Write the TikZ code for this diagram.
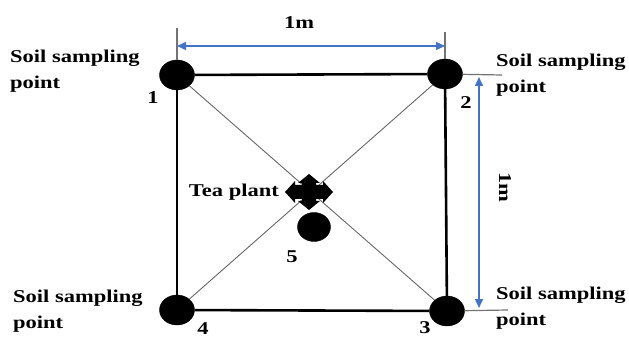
\documentclass[tikz,border=0pt]{standalone}
\usepackage{fontspec}
\setmainfont{Liberation Serif}[FakeStretch=1.25]
\usepackage{tikz}
\usetikzlibrary{arrows.meta, shapes.geometric}
\definecolor{dimblue}{RGB}{68,114,196}

\begin{document}
\begin{tikzpicture}[x=1pt, y=-1pt,
    every node/.style={font=\fontsize{18}{26}\selectfont\bfseries},
    spot/.style={ellipse, fill=black, draw=black, minimum width=35pt, minimum height=30pt, inner sep=0pt},
    side/.style={line width=2.6pt},
    diag/.style={line width=0.9pt, black!60},
    tick/.style={line width=1.2pt, black!55},
    dim/.style={line width=1.4pt, dimblue, {Triangle[length=9pt,width=8pt]}-{Triangle[length=9pt,width=8pt]}},
    txt/.style={align=left, inner sep=0pt}
]

\useasboundingbox (0,0) rectangle (629,339);

% Sampling points
\node[spot] (p1) at (177,75) {};
\node[spot] (p2) at (445,74) {};
\node[spot] (p3) at (447,311) {};
\node[spot] (p4) at (177,310) {};
\node[spot, minimum width=33pt, minimum height=29pt] (p5) at (314,227) {};

% Diagonals through the tea plant
\draw[diag] (p1) -- (p3);
\draw[diag] (p2) -- (p4);

% Square
\draw[side] (p1) -- (p2);
\draw[side] (p2) -- (p3);
\draw[side] (p3) -- (p4);
\draw[side] (p4) -- (p1);

% Tea plant mark
\coordinate (tea) at (309,192);
\fill[shift={(tea)}] (-24,0) -- (-14,-11) -- (-14,-7) -- (-7,-7) -- (-7,-9) -- (-11,-9)
    -- (0,-18) -- (11,-9) -- (7,-9) -- (7,-7) -- (14,-7) -- (14,-11) -- (24,0)
    -- (14,11) -- (14,7) -- (7,7) -- (7,9) -- (11,9) -- (0,18) -- (-11,9)
    -- (-7,9) -- (-7,7) -- (-14,7) -- (-14,11) -- cycle;
\node[anchor=east, inner sep=2pt] (tealbl) at (281,192) {Tea plant};

% Point numbers
\node (n1) at (153,98) {1};
\node (n2) at (466,103) {2};
\node (n3) at (425,328) {3};
\node (n4) at (203,329) {4};
\node (n5) at (292,257) {5};

% Labels
\node[txt, anchor=west] (s1) at (10,71) {Soil sampling\\point};
\node[txt, anchor=west] (s2) at (496,75) {Soil sampling\\point};
\node[txt, anchor=west] (s3) at (13,311) {Soil sampling\\point};
\node[txt, anchor=west] (s4) at (496,308) {Soil sampling\\point};

% Extension lines
\coordinate (t1) at (177,28);
\coordinate (t2) at (445,32);
\coordinate (e2) at (502,75);
\coordinate (e3) at (508,310);
\draw[tick] (t1) -- (p1);
\draw[tick] (t2) -- (p2);
\draw[tick] (p2) -- (e2);
\draw[tick] (p3) -- (e3);

% Dimensions
\coordinate (a1) at (177,46);
\coordinate (a2) at (445,46);
\coordinate (b1) at (479,77);
\coordinate (b2) at (479,308);
\draw[dim] (a1) -- (a2);
\draw[dim] (b1) -- (b2);
\node (w) at (299,23) {1m};
\node[rotate=-90] (h) at (505,187) {1m};

\end{tikzpicture}
\end{document}
